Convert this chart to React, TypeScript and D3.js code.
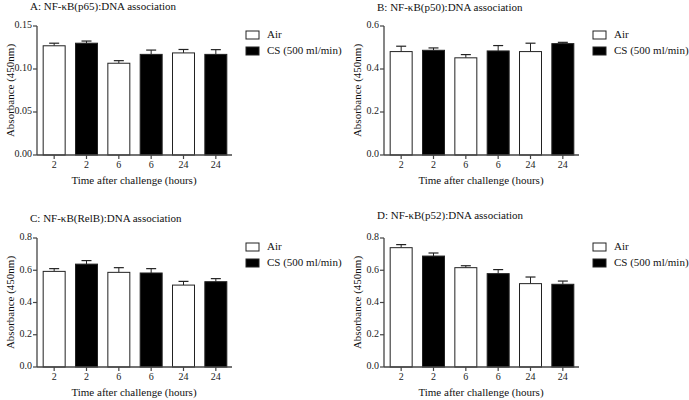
import React from "react";
import * as d3 from "d3";

const categories = ["2", "2", "6", "6", "24", "24"];
const groups = ["Air", "CS", "Air", "CS", "Air", "CS"];
const legendLabels = ["Air", "CS (500 ml/min)"];

const titleA = "A: NF-\u03baB(p65):DNA association";
const valuesA = [0.127, 0.130, 0.1067, 0.117, 0.1187, 0.117];
const errorsA = [0.003, 0.0025, 0.003, 0.005, 0.004, 0.0055];
const ticksA = [0, 0.05, 0.1, 0.15];

const titleB = "B: NF-\u03baB(p50):DNA association";
const valuesB = [0.481, 0.487, 0.452, 0.484, 0.481, 0.518];
const errorsB = [0.025, 0.011, 0.015, 0.025, 0.039, 0.006];
const ticksB = [0, 0.2, 0.4, 0.6];

const titleC = "C: NF-\u03baB(RelB):DNA association";
const valuesC = [0.593, 0.638, 0.587, 0.583, 0.508, 0.529];
const errorsC = [0.017, 0.022, 0.029, 0.027, 0.023, 0.019];
const ticksC = [0, 0.2, 0.4, 0.6, 0.8];

const titleD = "D: NF-\u03baB(p52):DNA association";
const valuesD = [0.740, 0.688, 0.616, 0.579, 0.517, 0.513];
const errorsD = [0.019, 0.019, 0.012, 0.025, 0.041, 0.02];
const ticksD = [0, 0.2, 0.4, 0.6, 0.8];

const FONT = "Liberation Serif, Times New Roman, DejaVu Serif, serif";
const AXIS = "#444";

function Panel({ ox, oy, title, titleY, values, errors, ticks }: any) {
  const yTop = 26;
  const yZero = 155;
  const axisX = 37;
  const max = ticks[ticks.length - 1];
  const y = d3.scaleLinear().domain([0, max]).range([yZero, yTop]);
  const x = d3
    .scaleBand<number>()
    .domain(d3.range(categories.length))
    .range([38, 232])
    .paddingInner(0.32)
    .paddingOuter(0.16);
  const bw = x.bandwidth();
  const f = max <= 0.15 ? d3.format(".2f") : d3.format(".1f");
  const ts = { fontFamily: FONT };
  return (
    <g transform={`translate(${ox},${oy})`} style={ts}>
      <text x={30} y={titleY} fontSize={11} dominantBaseline="middle" fill="#111" style={ts}>
        {title}
      </text>
      {values.map((v: number, i: number) => {
        const x0 = x(i)!;
        const cx = x0 + bw / 2;
        const top = y(v);
        const et = y(v + errors[i]);
        return (
          <g key={i}>
            <line x1={cx} x2={cx} y1={top} y2={et} stroke="#222" strokeWidth={1} />
            <line x1={cx - 5} x2={cx + 5} y1={et} y2={et} stroke="#222" strokeWidth={1.2} />
            <rect
              x={x0}
              y={top}
              width={bw}
              height={yZero - top}
              fill={groups[i] === "Air" ? "#fff" : "#000"}
              stroke="#222"
              strokeWidth={1}
            />
          </g>
        );
      })}
      <line x1={axisX} x2={axisX} y1={yTop} y2={yZero} stroke={AXIS} strokeWidth={1.3} />
      <line x1={axisX} x2={232} y1={yZero} y2={yZero} stroke={AXIS} strokeWidth={1.3} />
      {ticks.map((t: number, i: number) => (
        <g key={i}>
          <line x1={axisX - 4} x2={axisX} y1={y(t)} y2={y(t)} stroke={AXIS} strokeWidth={1.2} />
          <text x={axisX - 5} y={y(t)} fontSize={10} textAnchor="end" dominantBaseline="middle" fill="#222" style={ts}>
            {f(t)}
          </text>
        </g>
      ))}
      {categories.map((c, i) => {
        const cx = x(i)! + bw / 2;
        return (
          <g key={i}>
            <line x1={cx} x2={cx} y1={yZero} y2={yZero + 4} stroke={AXIS} strokeWidth={1.2} />
            <text x={cx} y={yZero + 11} fontSize={10} textAnchor="middle" dominantBaseline="middle" fill="#222" style={ts}>
              {c}
            </text>
          </g>
        );
      })}
      <text x={134} y={yZero + 26} fontSize={11} textAnchor="middle" dominantBaseline="middle" fill="#111" style={ts}>
        Time after challenge (hours)
      </text>
      <text
        transform={`translate(11,${(yTop + yZero) / 2}) rotate(-90)`}
        fontSize={11}
        textAnchor="middle"
        dominantBaseline="middle"
        fill="#111"
        style={ts}
      >
        Absorbance (450nm)
      </text>
      {legendLabels.map((l, i) => (
        <g key={i} transform={`translate(246,${31 + i * 16})`}>
          <rect x={0} y={0} width={13} height={8} fill={i === 0 ? "#fff" : "#000"} stroke="#222" strokeWidth={1} />
          <text x={21} y={4} fontSize={11} dominantBaseline="middle" fill="#111" style={ts}>
            {l}
          </text>
        </g>
      ))}
    </g>
  );
}

export default function App() {
  return (
    <svg width={689} height={400} style={{ position: "absolute", left: 0, top: 0, background: "#fff" }}>
      <rect width={689} height={400} fill="#fff" />
      <Panel ox={0} oy={0} title={titleA} titleY={7} values={valuesA} errors={errorsA} ticks={ticksA} />
      <Panel ox={347} oy={0} title={titleB} titleY={8} values={valuesB} errors={errorsB} ticks={ticksB} />
      <Panel ox={0} oy={212} title={titleC} titleY={7} values={valuesC} errors={errorsC} ticks={ticksC} />
      <Panel ox={347} oy={212} title={titleD} titleY={4} values={valuesD} errors={errorsD} ticks={ticksD} />
    </svg>
  );
}
